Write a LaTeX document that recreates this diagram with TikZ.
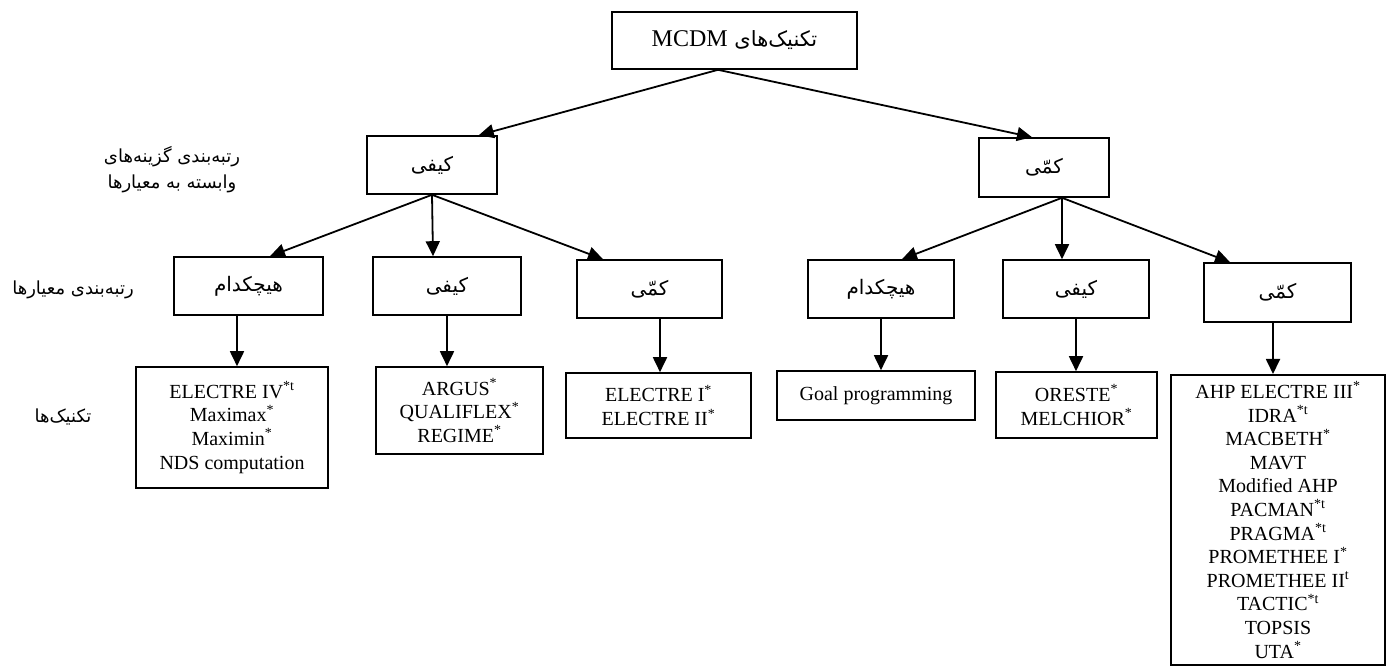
\documentclass[tikz,border=0pt]{standalone}
\usepackage{fontspec}
\setmainfont{Liberation Serif}
\newfontfamily\farsi[Script=Arabic]{DejaVu Sans}
\TeXXeTstate=1
\usetikzlibrary{arrows.meta}
\tikzset{>={Triangle[length=15pt,width=14pt]}}
\tikzset{
  box/.style={draw, line width=1.6pt, inner sep=0pt, align=center, font=\fontsize{20}{23.6}\selectfont},
  fa/.style={font=\farsi\fontsize{20}{24}\selectfont},
  lbl/.style={align=center, font=\farsi\fontsize{18}{26}\selectfont},
  conn/.style={->, line width=1.8pt},
}
\newcommand{\rl}[1]{\beginR #1\endR}
\newcommand{\up}[1]{\textsuperscript{#1}}

\begin{document}
\begin{tikzpicture}[x=1pt, y=-1pt]
\useasboundingbox (0,0) rectangle (1390,668);
\node[box, font=\fontsize{24}{28}\selectfont, minimum width=245pt, minimum height=57pt] (top) at (734.5,40.5)
  {\farsi\fontsize{21}{24}\selectfont\rl{تکنیک‌های \beginL{\rmfamily\fontsize{24}{28}\selectfont MCDM}\endL}};
\node[box, fa, minimum width=130pt, minimum height=58pt] (q1) at (432,165) {\rl{کیفی}};
\node[box, fa, minimum width=130pt, minimum height=59pt] (k1) at (1044,167.5) {\rl{کمّی}};

\node[box, fa, minimum width=149pt, minimum height=58pt] (n2a) at (248.5,286) {\rl{هیچکدام}};
\node[box, fa, minimum width=148pt, minimum height=58pt] (q2a) at (447,286) {\rl{کیفی}};
\node[box, fa, minimum width=145pt, minimum height=58pt] (k2a) at (649.5,289) {\rl{کمّی}};
\node[box, fa, minimum width=146pt, minimum height=58pt] (n2b) at (881,289) {\rl{هیچکدام}};
\node[box, fa, minimum width=146pt, minimum height=58pt] (q2b) at (1076,289) {\rl{کیفی}};
\node[box, fa, minimum width=147pt, minimum height=59pt] (k2b) at (1277.5,292.5) {\rl{کمّی}};

\node[box, minimum width=192pt, minimum height=121pt] (t1) at (232,427.5)
  {ELECTRE IV\up{*t}\\Maximax\up{*}\\Maximin\up{*}\\NDS computation};
\node[box, minimum width=167pt, minimum height=87pt] (t2) at (459.5,410.5)
  {ARGUS\up{*}\\QUALIFLEX\up{*}\\REGIME\up{*}};
\node[box, minimum width=185pt, minimum height=65pt] (t3) at (658.5,405.5)
  {ELECTRE I\up{*}\\ELECTRE II\up{*}};
\node[box, minimum width=198pt, minimum height=49pt] (t4) at (876,395.5) {Goal programming};
\node[box, minimum width=161pt, minimum height=66pt] (t5) at (1076.5,405) {ORESTE\up{*}\\MELCHIOR\up{*}};
\node[box, anchor=north, inner ysep=7pt, minimum width=214pt] (t6) at (1278,374)
  {AHP ELECTRE III\up{*}\\IDRA\up{*t}\\MACBETH\up{*}\\MAVT\\Modified AHP\\PACMAN\up{*t}\\PRAGMA\up{*t}\\
   PROMETHEE I\up{*}\\PROMETHEE II\up{t}\\TACTIC\up{*t}\\TOPSIS\\UTA\up{*}};

\node[lbl] (l1) at (172,170) {\rl{رتبه‌بندی گزینه‌های}\\\rl{وابسته به معیارها}};
\node[lbl] (l2) at (73,290) {\rl{رتبه‌بندی معیارها}};
\node[lbl] (l3) at (63,417) {\rl{تکنیک‌ها}};

\draw[conn] ([xshift=-16.5pt]top.south) -- ([xshift=-19pt]q1.north east);
\draw[conn] ([xshift=-16.5pt]top.south) -- ([xshift=-12pt]k1.north);
\draw[conn] (q1.south) -- ([xshift=21.5pt]n2a.north);
\draw[conn] (q1.south) -- ([xshift=-14pt]q2a.north);
\draw[conn] (q1.south) -- ([xshift=-46.5pt]k2a.north);
\draw[conn] ([xshift=18pt]k1.south) -- ([xshift=21pt]n2b.north);
\draw[conn] ([xshift=18pt]k1.south) -- ([xshift=-14pt]q2b.north);
\draw[conn] ([xshift=18pt]k1.south) -- ([xshift=-47.5pt]k2b.north);
\draw[conn] ([xshift=-11.5pt]n2a.south) -- ([xshift=-11.5pt]n2a.south |- t1.north);
\draw[conn] (q2a.south) -- (q2a.south |- t2.north);
\draw[conn] ([xshift=10.5pt]k2a.south) -- ([xshift=10.5pt]k2a.south |- t3.north);
\draw[conn] (n2b.south) -- (n2b.south |- t4.north);
\draw[conn] (q2b.south) -- (q2b.south |- t5.north);
\draw[conn] ([xshift=-4.5pt]k2b.south) -- ([xshift=-4.5pt]k2b.south |- t6.north);
\end{tikzpicture}
\end{document}
